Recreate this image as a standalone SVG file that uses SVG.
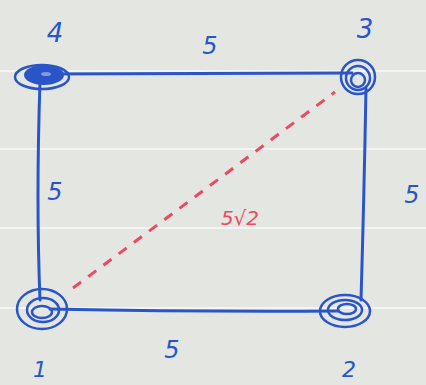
<svg xmlns="http://www.w3.org/2000/svg" width="426" height="385" viewBox="0 0 426 385">
<style>
.bg{fill:#e4e6e1}
.rule{stroke:#f4f5f2;stroke-width:2}
.edge{stroke:#2a55c8;stroke-width:3;fill:none;stroke-linecap:round}
.diag{stroke:#ec4a5e;stroke-width:3;fill:none;stroke-dasharray:10 9}
.ring{stroke:#2a55c8;stroke-width:2.5;fill:none}
.core{fill:#2a55c8}
.lbl{font-family:"DejaVu Sans",sans-serif;font-style:oblique;fill:#2a55c8;text-anchor:middle}
.red{fill:#ec4a5e}
</style>
<rect class="bg" width="426" height="385"/>
<g id="rules">
<line class="rule" x1="0" y1="71" x2="426" y2="71"/>
<line class="rule" x1="0" y1="149" x2="426" y2="149"/>
<line class="rule" x1="0" y1="228" x2="426" y2="228"/>
<line class="rule" x1="0" y1="308" x2="426" y2="308"/>
</g>
<g id="connectors">
<path class="edge" d="M 44 74 L 352 73"/>
<path class="edge" d="M 40 82 Q 36 200 40 300"/>
<path class="edge" d="M 366 88 Q 364 200 361 300"/>
<path class="edge" d="M 50 309 Q 200 312 338 311"/>
<path class="diag" d="M 73 288 L 335 92"/>
</g>
<g id="node-4">
<ellipse class="ring" cx="42" cy="77" rx="27" ry="12"/>
<ellipse class="core" cx="44" cy="75" rx="20" ry="10"/>
<ellipse cx="46" cy="74" rx="5" ry="2" fill="#7f9ce0"/>
</g>
<g id="node-3">
<circle class="ring" cx="358" cy="77" r="17"/>
<circle class="ring" cx="358" cy="78" r="12"/>
<circle class="ring" cx="358" cy="80" r="7"/>
</g>
<g id="node-1">
<ellipse class="ring" cx="42" cy="309" rx="25" ry="20"/>
<ellipse class="ring" cx="43" cy="310" rx="16" ry="12"/>
<ellipse class="ring" cx="42" cy="312" rx="10" ry="6"/>
</g>
<g id="node-2">
<ellipse class="ring" cx="345" cy="311" rx="25" ry="16"/>
<ellipse class="ring" cx="345" cy="310" rx="17" ry="10"/>
<ellipse class="ring" cx="347" cy="309" rx="9" ry="5"/>
</g>
<g id="labels">
<text class="lbl" x="55" y="42" font-size="26">4</text>
<text class="lbl" x="365" y="38" font-size="26">3</text>
<text class="lbl" x="210" y="54" font-size="24">5</text>
<text class="lbl" x="55" y="200" font-size="24">5</text>
<text class="lbl" x="412" y="203" font-size="24">5</text>
<text class="lbl" x="172" y="358" font-size="24">5</text>
<text class="lbl" x="40" y="377" font-size="22">1</text>
<text class="lbl" x="349" y="377" font-size="22">2</text>
<text class="lbl red" x="240" y="225" font-size="20">5√2</text>
</g>
</svg>
